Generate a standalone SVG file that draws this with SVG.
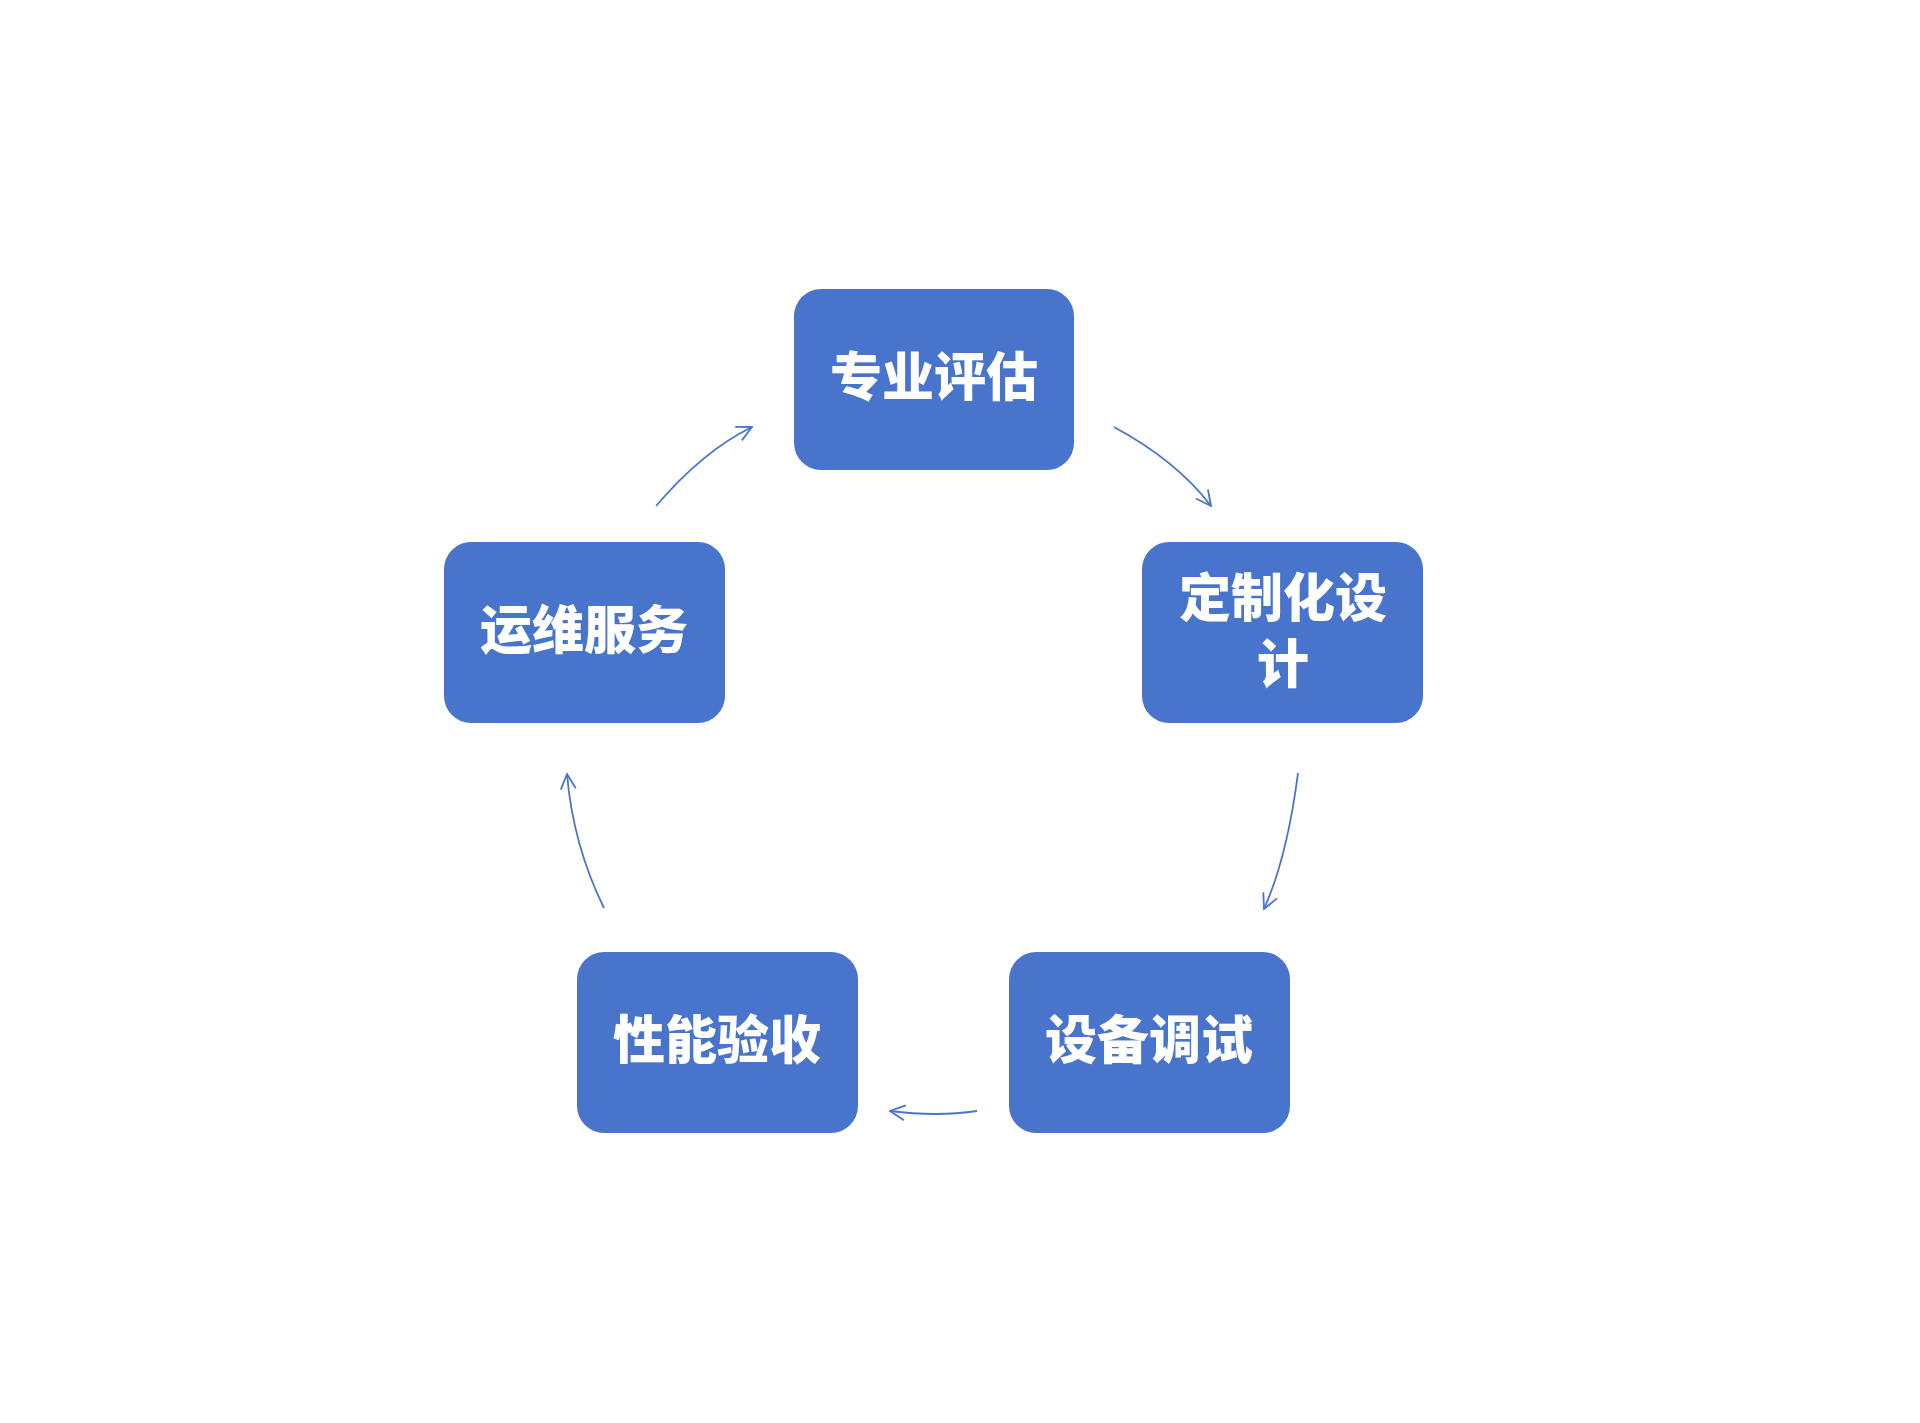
<svg xmlns="http://www.w3.org/2000/svg" width="1920" height="1423" viewBox="0 0 1920 1423">
<style>
.box{fill:#4874cb}
.t{font-family:"Noto Sans CJK SC",sans-serif;font-weight:900;font-size:52px;fill:#fff;text-anchor:middle;dominant-baseline:central}
.c{fill:none;stroke:#4874cb;stroke-width:1.8;marker-end:url(#a)}
</style>
<defs><marker id="a" viewBox="0 0 12 12" refX="11" refY="6" markerWidth="18" markerHeight="18" markerUnits="userSpaceOnUse" orient="auto"><path d="M1,1 L11,6 L1,11" fill="none" stroke="#4874cb" stroke-width="1.2"/></marker></defs>
<rect width="1920" height="1423" fill="#fff"/>
<g transform="translate(-5,-4)">
<g id="n1"><rect class="box" x="799" y="293" width="280" height="181" rx="27"/><text class="t" x="939" y="377">专业评估</text></g>
<g id="n2"><rect class="box" x="1147" y="546" width="281" height="181" rx="27"/><text class="t" x="1288" y="598">定制化设</text><text class="t" x="1288" y="664">计</text></g>
<g id="n3"><rect class="box" x="1014" y="956" width="281" height="181" rx="27"/><text class="t" x="1154" y="1040">设备调试</text></g>
<g id="n4"><rect class="box" x="582" y="956" width="281" height="181" rx="27"/><text class="t" x="722" y="1040">性能验收</text></g>
<g id="n5"><rect class="box" x="449" y="546" width="281" height="181" rx="27"/><text class="t" x="589" y="630">运维服务</text></g>
<g id="connectors">
<path class="c" d="M1119,431 Q1182,465 1216,510"/>
<path class="c" d="M1303,777 Q1292,862 1269,913"/>
<path class="c" d="M982,1115 Q942,1121 895,1115"/>
<path class="c" d="M609,912 Q578,849 572,778"/>
<path class="c" d="M661,510 Q708,455 757,431"/>
</g>
</g>
</svg>
